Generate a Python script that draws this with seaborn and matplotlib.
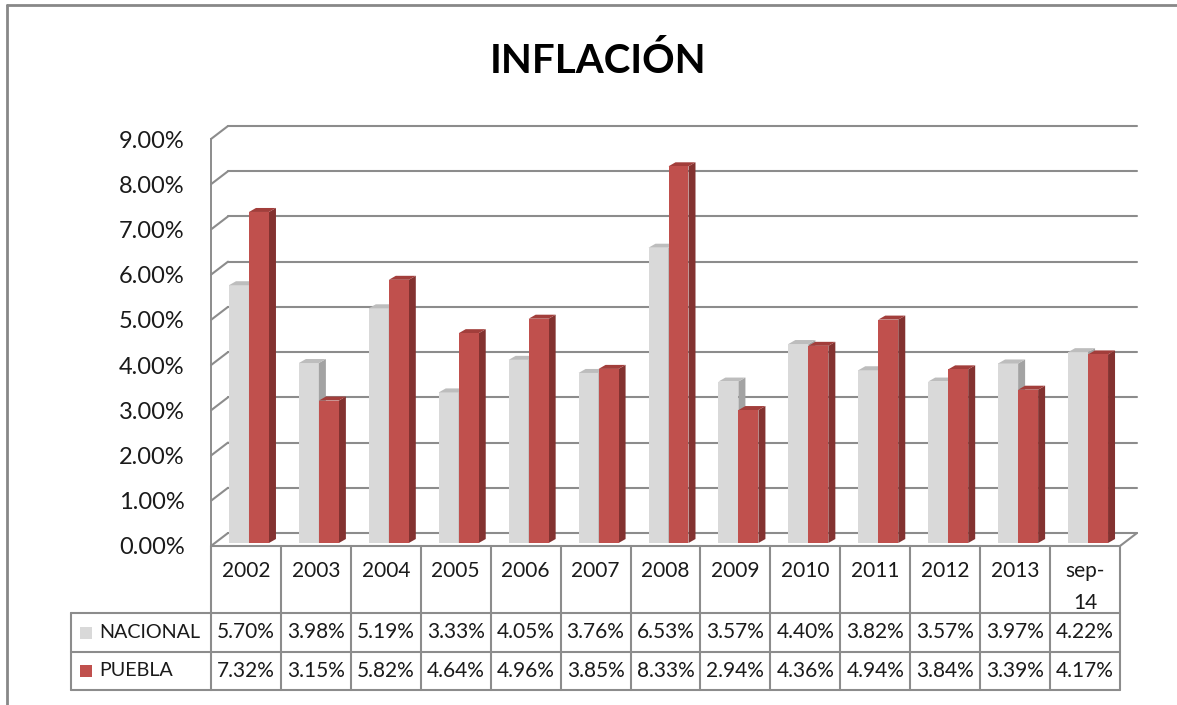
import matplotlib
matplotlib.use("Agg")
import matplotlib.pyplot as plt
import matplotlib.transforms as mtransforms
from matplotlib.lines import Line2D
from matplotlib.patches import Polygon, Rectangle
import pandas as pd
import seaborn as sns

# --- data ---
years = ["2002", "2003", "2004", "2005", "2006", "2007", "2008",
         "2009", "2010", "2011", "2012", "2013", "sep-\n14"]
nacional = [5.70, 3.98, 5.19, 3.33, 4.05, 3.76, 6.53, 3.57, 4.40, 3.82, 3.57, 3.97, 4.22]
puebla = [7.32, 3.15, 5.82, 4.64, 4.96, 3.85, 8.33, 2.94, 4.36, 4.94, 3.84, 3.39, 4.17]
series_names = ["NACIONAL", "PUEBLA"]
y_ticks = [0, 1, 2, 3, 4, 5, 6, 7, 8, 9]

# --- style ---
GRAY = "#D9D9D9"
RED = "#C0504D"
TOPS = {GRAY: "#BDBDBD", RED: "#A23E3B"}
SIDES = {GRAY: "#A3A3A3", RED: "#833230"}
GRID = "#8C8C8C"
TXT = "#1a1a1a"
W, H = 1177, 705


def fx(px):
    return px / W


def fy(py):
    return 1 - py / H


sns.set_theme(style="white")
plt.rcParams["font.family"] = ["Lato", "DejaVu Sans"]

fig = plt.figure(figsize=(W / 100, H / 100), dpi=100)
ax = fig.add_axes([fx(211), fy(546), (1120 - 211) / W, (546 - 139) / H])

df = pd.DataFrame({
    "year": years * 2,
    "serie": [series_names[0]] * len(years) + [series_names[1]] * len(years),
    "valor": nacional + puebla,
})
sns.barplot(data=df, x="year", y="valor", hue="serie", palette=[GRAY, RED],
            width=0.572, saturation=1, errorbar=None, legend=False, ax=ax,
            linewidth=0, zorder=3)

ax.set_xlim(-0.5, len(years) - 0.5)
ax.set_ylim(0, 9)
ax.set_xticks([])
ax.set_xlabel("")
ax.set_ylabel("")
ax.set_yticks(y_ticks)
ax.set_yticklabels([f"{t:.2f}%" for t in y_ticks])
ax.tick_params(axis="y", length=0, pad=19, labelsize=17, labelcolor=TXT)
for s in ["top", "right", "bottom"]:
    ax.spines[s].set_visible(False)
ax.spines["left"].set_color(GRID)
ax.spines["left"].set_linewidth(1.4)
ax.set_facecolor("none")

# back wall offset (3D depth) in pixels
DX, DY = 17, 13
back = ax.transData + mtransforms.ScaledTranslation(DX / 100, DY / 100, fig.dpi_scale_trans)
ident = mtransforms.IdentityTransform()
x_lo, x_hi = ax.get_xlim()

for t in y_ticks:
    ax.plot([x_lo, x_hi], [t, t], transform=back, color=GRID, lw=1.5, zorder=1, clip_on=False)
    p0 = ax.transData.transform((x_lo, t))
    ax.add_line(Line2D([p0[0], p0[0] + DX], [p0[1], p0[1] + DY], transform=ident,
                       color=GRID, lw=1.5, zorder=1, clip_on=False))
# floor right edge
pr = ax.transData.transform((x_hi, 0))
ax.add_line(Line2D([pr[0], pr[0] + DX], [pr[1], pr[1] + DY], transform=ident,
                   color=GRID, lw=1.5, zorder=1, clip_on=False))

# --- 3D bar faces ---
BX, BY = 3, 3   # bar shift from front plane
BDX, BDY = 7, 4  # bar depth
shift = mtransforms.ScaledTranslation(BX / 100, BY / 100, fig.dpi_scale_trans)
bars = [p for p in ax.patches if p.get_height() > 0]
for p in bars:
    col = matplotlib.colors.to_hex(p.get_facecolor())
    col = GRAY if col.lower() == GRAY.lower() else RED
    z = 3 if col == GRAY else 4
    x0, w, h = p.get_x(), p.get_width(), p.get_height()
    (ax0, ay0), (ax1, ay1) = ax.transData.transform([(x0, 0), (x0 + w, h)])
    ax0 += BX; ax1 += BX; ay0 += BY; ay1 += BY
    side = Polygon([(ax1, ay0), (ax1, ay1), (ax1 + BDX, ay1 + BDY), (ax1 + BDX, ay0 + BDY)],
                   closed=True, transform=ident, facecolor=SIDES[col], edgecolor="none",
                   zorder=z, clip_on=False)
    top = Polygon([(ax0, ay1), (ax1, ay1), (ax1 + BDX, ay1 + BDY), (ax0 + BDX, ay1 + BDY)],
                  closed=True, transform=ident, facecolor=TOPS[col], edgecolor="none",
                  zorder=z, clip_on=False)
    ax.add_patch(side)
    ax.add_patch(top)
    p.set_transform(ax.transData + shift)
    p.set_zorder(z + 0.5 if col == RED else z)
    p.set_clip_on(False)

# --- data table ---
blend = mtransforms.blended_transform_factory(ax.transData, fig.transFigure)
row_y = [546, 613, 652, 690]
for k in range(len(years) + 1):
    ax.add_line(Line2D([x_lo + k, x_lo + k], [fy(row_y[0]), fy(row_y[-1])], transform=blend,
                       color=GRID, lw=1.5, clip_on=False))
ax.add_line(Line2D([x_lo, x_hi], [fy(546), fy(546)], transform=blend, color=GRID, lw=1.5, clip_on=False))
for yy in row_y[1:]:
    fig.add_artist(Line2D([fx(71), fx(211)], [fy(yy), fy(yy)], color=GRID, lw=1.5))
    ax.add_line(Line2D([x_lo, x_hi], [fy(yy), fy(yy)], transform=blend, color=GRID, lw=1.5, clip_on=False))
fig.add_artist(Line2D([fx(71), fx(71)], [fy(613), fy(690)], color=GRID, lw=1.5))

for i, yr in enumerate(years):
    ax.text(i, fy(561), yr, transform=blend, ha="center", va="top", fontsize=15,
            color=TXT, linespacing=1.75)
    ax.text(i, fy(632.5), f"{nacional[i]:.2f}%", transform=blend, ha="center", va="center",
            fontsize=15, color=TXT)
    ax.text(i, fy(671), f"{puebla[i]:.2f}%", transform=blend, ha="center", va="center",
            fontsize=15, color=TXT)

for name, col, yc in zip(series_names, [GRAY, RED], [632.5, 671]):
    fig.add_artist(Rectangle((fx(80), fy(yc + 6)), 12 / W, 12 / H, facecolor=col, edgecolor="none"))
    fig.text(fx(99), fy(yc), name, ha="left", va="center", fontsize=14.2, color=TXT)

# --- title and frame ---
fig.text(fx(598), fy(73), "INFLACIÓN", ha="center", va="baseline", fontsize=29,
         fontweight="bold", color="black")
fig.add_artist(Line2D([fx(7), fx(W)], [fy(5), fy(5)], color="#888888", lw=2))
fig.add_artist(Line2D([fx(7), fx(7)], [fy(5), fy(H)], color="#888888", lw=2))

fig.savefig("out.png", dpi=100)
